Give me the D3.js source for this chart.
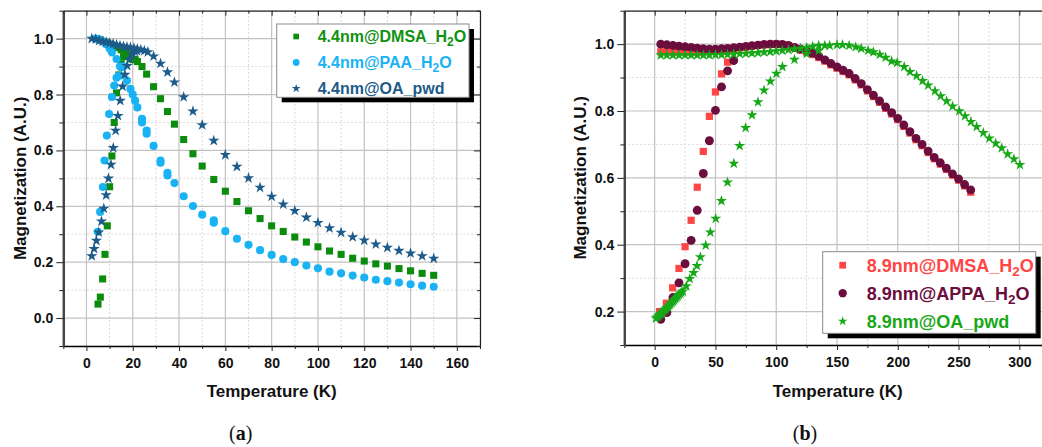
<!DOCTYPE html>
<html>
<head>
<meta charset="utf-8">
<script src="https://cdn.jsdelivr.net/npm/d3@7"></script>
<style>
  body { margin: 0; background: #fff; }
  svg { display: block; font-family: "Liberation Sans", Arial, sans-serif; }
</style>
</head>
<body>
<div id="chart"></div>
<script>
// ---- data: [temperature (K), normalised magnetisation] ----
// panel (a): 4.4 nm particles
const dmsa44 = [
  [5,0.05],[6,0.075],[7,0.14],[8,0.228],[9,0.33],[10,0.47],[11,0.58],[12,0.70],[13,0.806],
  [14,0.87],[15,0.91],[16,0.935],[17,0.945],[18,0.94],[19,0.93],[20,0.925],
  [4.5,1.0],[6,0.995],[7.5,0.99],[9,0.985],[10.5,0.98],[12,0.975],[13.5,0.968],[15,0.96],
  [16.5,0.952],[18,0.944],[19.5,0.935],[21,0.926],
  [22,0.918],[24,0.9],[26,0.873],[29,0.828],[32,0.785],[35,0.739],[38,0.694],[42,0.639],
  [46,0.588],[50,0.544],[55,0.496],[60,0.454],[65,0.417],[70,0.384],[75,0.356],[80,0.330],
  [85,0.31],[90,0.29],[95,0.272],[100,0.255],[105,0.24],[110,0.228],[115,0.214],[120,0.204],
  [125,0.194],[130,0.186],[135,0.177],[140,0.169],[145,0.16],[150,0.153]
];
const paa44 = [
  [4.9,0.309],[5.9,0.38],[7.1,0.469],[7.8,0.564],[8.8,0.653],[9.8,0.73],[11,0.791],[12,0.832],
  [13,0.86],[14,0.867],[15,0.898],
  [4,1.0],[5.5,0.998],[7,0.99],[8.5,0.98],[10,0.965],[11,0.951],[13,0.927],[14.5,0.9],
  [16,0.9],[17.5,0.85],[19,0.82],[20,0.80],[21,0.778],[22,0.754],[24,0.713],[24,0.70],
  [26,0.671],[26,0.66],[29,0.616],[32,0.564],[32,0.556],[35,0.52],[35,0.51],[38,0.483],
  [42,0.436],[46,0.401],[50,0.37],[55,0.341],[55,0.35],[60,0.311],[65,0.284],[70,0.262],
  [75,0.243],[80,0.226],[85,0.211],[90,0.2],[95,0.188],[100,0.178],[105,0.166],[110,0.16],
  [115,0.152],[120,0.145],[125,0.137],[130,0.132],[135,0.127],[140,0.121],[145,0.116],[150,0.112]
];
const oa44 = [
  [2.3,0.222],[3.3,0.248],[4.3,0.277],[5.3,0.307],[6.5,0.346],[7.5,0.392],[8.5,0.44],[9.5,0.5],
  [10.6,0.549],[11.6,0.609],[12.6,0.671],[13.6,0.724],[14.6,0.778],[15.6,0.829],[16.6,0.871],
  [17.6,0.903],[18.6,0.926],[19.8,0.944],[20.8,0.954],[21.8,0.956],
  [2.3,1.0],[4,0.998],[5.5,0.993],[7,0.99],[8.5,0.987],[10,0.984],[11.5,0.981],[13,0.978],
  [14.5,0.975],[16,0.972],[17.5,0.97],[19,0.968],[20.5,0.966],[22,0.963],[23.5,0.96],[25,0.957],
  [26.5,0.952],
  [29,0.937],[32,0.911],[35,0.88],[38,0.844],[42,0.791],[46,0.74],[50,0.691],[55,0.635],
  [60,0.584],[65,0.542],[70,0.501],[75,0.467],[80,0.435],[85,0.407],[90,0.384],[95,0.36],
  [100,0.341],[105,0.322],[110,0.306],[115,0.29],[120,0.278],[125,0.264],[130,0.252],
  [135,0.241],[140,0.232],[145,0.222],[150,0.213]
];

// panel (b): 8.9 nm particles
const dmsa89 = [
  [4,0.2],[9.6,0.225],[14.8,0.271],[20,0.329],[25,0.394],[30,0.473],[35,0.572],[40,0.679],
  [45,0.784],[50,0.857],[55,0.911],[60,0.946],
  [5,0.977],[10,0.977],[15,0.976],[20,0.976],[25,0.976],[30,0.976],[35,0.976],[40,0.977],
  [45,0.978],[50,0.98],[55,0.982],[60,0.984],[65,0.986],[70,0.989],[75,0.991],[80,0.994],
  [85,0.996],[90,0.998],[95,0.999],[100,1.0],[105,0.999],[110,0.995],[115,0.99],[120,0.982],
  [125,0.976],[130,0.969],[135,0.96],[140,0.949],[145,0.938],[150,0.928],[155,0.918],
  [160,0.908],[165,0.893],[170,0.878],[175,0.86],[180,0.843],[185,0.826],[190,0.808],
  [195,0.791],[200,0.774],[205,0.754],[210,0.734],[215,0.714],[220,0.696],[225,0.676],
  [230,0.657],[235,0.641],[240,0.625],[245,0.608],[250,0.593],[255,0.576],[260,0.557]
];
const appa89 = [
  [5,0.177],[10,0.197],[15,0.242],[20,0.286],[25,0.343],[30,0.413],[35,0.503],[40,0.613],
  [45,0.711],[50,0.802],[55,0.872],[60,0.92],[65,0.951],
  [5,1.0],[10,0.998],[15,0.996],[20,0.994],[25,0.992],[30,0.99],[35,0.988],[40,0.986],
  [45,0.985],[50,0.985],[55,0.986],[60,0.987],[65,0.989],[70,0.991],[75,0.993],[80,0.995],
  [85,0.997],[90,0.999],[95,1.0],[100,1.0],[105,0.999],[110,0.996],[115,0.99],[120,0.985],
  [125,0.98],[130,0.973],[135,0.964],[140,0.953],[145,0.942],[150,0.932],[155,0.922],
  [160,0.912],[165,0.897],[170,0.882],[175,0.864],[180,0.847],[185,0.83],[190,0.812],
  [195,0.795],[200,0.778],[205,0.758],[210,0.738],[215,0.718],[220,0.70],[225,0.68],
  [230,0.661],[235,0.645],[240,0.629],[245,0.612],[250,0.597],[255,0.58],[260,0.564]
];
const oa89 = [
  [1,0.18],[2,0.183],[3,0.186],[4,0.19],[5,0.193],[6,0.197],[7,0.2],[8,0.204],[9,0.207],
  [10,0.211],[11,0.214],[12,0.218],[13,0.222],[14,0.226],[15,0.23],[16,0.234],[17,0.238],
  [18,0.242],[19,0.246],[20,0.25],[21,0.254],[22,0.258],[23.3,0.261],[26,0.276],[28.8,0.298],
  [32,0.316],[34.8,0.337],[37.6,0.363],[42,0.398],[45.8,0.437],[50.2,0.478],[54.9,0.531],
  [59.9,0.587],[65.1,0.643],[69.9,0.696],[74.8,0.75],[80.1,0.788],[85,0.827],[90,0.862],
  [95.2,0.889],[100.2,0.912],[105.1,0.932],[115,0.954],[125,0.971],[135,0.981],
  [5,0.967],[10,0.967],[15,0.967],[20,0.967],[25,0.967],[30,0.967],[35,0.967],[40,0.967],
  [45,0.967],[50,0.968],[55,0.968],[60,0.969],[65,0.97],[70,0.971],[75,0.972],[80,0.973],
  [85,0.974],[90,0.976],[95,0.977],[100,0.979],[105,0.981],[110,0.983],[115,0.985],
  [120,0.987],[125,0.99],[130,0.993],[135,0.996],[140,0.996],[144,0.996],[150,0.998],
  [154.5,0.998],[160,0.996],[165.4,0.991],[170,0.987],[175.6,0.981],[180,0.976],[185.2,0.969],
  [190,0.96],[194.9,0.949],[199.5,0.944],[205.3,0.932],[210,0.917],[215.5,0.905],[220.4,0.89],
  [225,0.877],[230.6,0.86],[235.3,0.845],[240.2,0.83],[245.1,0.814],[250.6,0.8],[255.3,0.785],
  [260.2,0.768],[264.9,0.753],[270.4,0.735],[275.3,0.718],[280.6,0.703],[285.5,0.689],
  [290.4,0.671],[295.6,0.656],[300.5,0.639]
];

// tick values
const xTicksA = [0, 20, 40, 60, 80, 100, 120, 140, 160];
const xTicksB = [0, 50, 100, 150, 200, 250, 300];
const yTicksA = [0.0, 0.2, 0.4, 0.6, 0.8, 1.0];
const yTicksB = [0.2, 0.4, 0.6, 0.8, 1.0];

const svg = d3.select("#chart").append("svg")
    .attr("width", 1042)
    .attr("height", 447);

function drawPanel(cfg) {
  const x = d3.scaleLinear().domain(cfg.xDomain).range(cfg.xRange);
  const y = d3.scaleLinear().domain(cfg.yDomain).range(cfg.yRange);
  const [x0, x1] = cfg.xRange;
  const [yb, yt] = cfg.yRange;   // bottom, top in pixels
  const g = svg.append("g");

  // grid (minor dotted, major solid)
  const grid = g.append("g");
  grid.selectAll(".gxm").data(cfg.xMinor).join("line")
      .attr("x1", d => x(d)).attr("x2", d => x(d)).attr("y1", yb).attr("y2", yt)
      .attr("stroke", "#d9d9d9").attr("stroke-dasharray", "2,2");
  grid.selectAll(".gym").data(cfg.yMinor).join("line")
      .attr("y1", d => y(d)).attr("y2", d => y(d)).attr("x1", x0).attr("x2", x1)
      .attr("stroke", "#d9d9d9").attr("stroke-dasharray", "2,2");
  grid.selectAll(".gx").data(cfg.xTicks).join("line")
      .attr("x1", d => x(d)).attr("x2", d => x(d)).attr("y1", yb).attr("y2", yt)
      .attr("stroke", "#c2c2c2").attr("stroke-width", 1.2);
  grid.selectAll(".gy").data(cfg.yTicks).join("line")
      .attr("y1", d => y(d)).attr("y2", d => y(d)).attr("x1", x0).attr("x2", x1)
      .attr("stroke", "#c2c2c2").attr("stroke-width", 1.2);

  // series
  cfg.series.forEach(s => {
    const sym = d3.symbol().type(s.type).size(s.size);
    g.append("g").selectAll("path")
      .data(s.data)
      .join("path")
        .attr("transform", d => `translate(${x(d[0])},${y(d[1])})`)
        .attr("d", sym)
        .attr("fill", s.color);
  });

  // axes: bottom / left outward, top / right inward
  const fmt = d3.format(".1f");
  const bottom = g.append("g").attr("transform", `translate(0,${yb})`)
      .call(d3.axisBottom(x).tickValues(cfg.xTicks).tickSize(5).tickSizeOuter(0).tickPadding(7));
  g.append("g").attr("transform", `translate(0,${yb})`)
      .call(d3.axisBottom(x).tickValues(cfg.xMinor).tickSize(3).tickSizeOuter(0).tickFormat(""))
      .select(".domain").remove();
  const left = g.append("g").attr("transform", `translate(${x0},0)`)
      .call(d3.axisLeft(y).tickValues(cfg.yTicks).tickSize(7).tickSizeOuter(0).tickPadding(3).tickFormat(fmt));
  g.append("g").attr("transform", `translate(${x0},0)`)
      .call(d3.axisLeft(y).tickValues(cfg.yMinor).tickSize(4).tickSizeOuter(0).tickFormat(""))
      .select(".domain").remove();
  g.append("g").attr("transform", `translate(0,${yt})`)
      .call(d3.axisBottom(x).tickValues(cfg.xTicks).tickSize(5).tickSizeOuter(0).tickFormat(""));
  g.append("g").attr("transform", `translate(0,${yt})`)
      .call(d3.axisBottom(x).tickValues(cfg.xMinor).tickSize(3).tickSizeOuter(0).tickFormat(""))
      .select(".domain").remove();
  if (cfg.rightAxis) {
    g.append("g").attr("transform", `translate(${x1},0)`)
        .call(d3.axisLeft(y).tickValues(cfg.yTicks).tickSize(6).tickSizeOuter(0).tickFormat(""));
    g.append("g").attr("transform", `translate(${x1},0)`)
        .call(d3.axisLeft(y).tickValues(cfg.yMinor).tickSize(3).tickSizeOuter(0).tickFormat(""))
        .select(".domain").remove();
  }
  g.selectAll(".tick line").attr("stroke", "#222");
  g.selectAll(".domain").attr("stroke", "#222").attr("stroke-width", 1.2);
  bottom.select(".domain").attr("stroke", "#000").attr("stroke-width", 1.6);
  left.select(".domain").attr("stroke", "#444").attr("stroke-width", 2.4);
  g.selectAll(".tick text")
      .attr("fill", "#111")
      .style("font-size", "14px")
      .style("font-weight", "bold")
      .style("font-family", "'Liberation Sans', Arial, sans-serif");

  // axis titles
  g.append("text")
      .attr("x", (x0 + cfg.titleRight) / 2)
      .attr("y", 397)
      .attr("text-anchor", "middle")
      .style("font-size", "17px")
      .style("font-weight", "bold")
      .attr("fill", "#111")
      .text("Temperature (K)");
  g.append("text")
      .attr("transform", `translate(${cfg.yTitleX},${(yb + yt) / 2}) rotate(-90)`)
      .attr("text-anchor", "middle")
      .attr("dy", "0.35em")
      .style("font-size", "17px")
      .style("font-weight", "bold")
      .attr("fill", "#111")
      .text("Magnetization (A.U.)");

  // legend with drop shadow
  const L = cfg.legend;
  const lg = g.append("g");
  lg.append("rect")
      .attr("x", L.x + 5).attr("y", L.y + 5).attr("width", L.w).attr("height", L.h)
      .attr("fill", "#000");
  lg.append("rect")
      .attr("x", L.x).attr("y", L.y).attr("width", L.w).attr("height", L.h)
      .attr("fill", "#fff").attr("stroke", "#8a8a8a").attr("stroke-width", 1);
  cfg.series.forEach((s, i) => {
    const cy = L.y + L.first + i * L.step;
    lg.append("path")
        .attr("transform", `translate(${L.x + L.mx},${cy})`)
        .attr("d", d3.symbol().type(s.type).size(s.legendSize))
        .attr("fill", s.color);
    const t = lg.append("text")
        .attr("x", L.x + L.tx)
        .attr("y", cy)
        .attr("dy", "0.36em")
        .attr("fill", s.textColor)
        .style("font-size", L.fontSize + "px")
        .style("font-weight", "bold");
    t.append("tspan").text(s.label);
    if (s.sub) {
      t.append("tspan").attr("dy", "0.3em").style("font-size", (L.fontSize * 0.75) + "px").text("2");
      t.append("tspan").attr("dy", "-0.22em").text("O");
    }
  });
}

// Panel (a)
drawPanel({
  xDomain: [-10, 170], xRange: [63.3, 480],
  yDomain: [-0.1, 1.1], yRange: [346, 10.7],
  xTicks: xTicksA, xMinor: [-10, 10, 30, 50, 70, 90, 110, 130, 150, 170],
  yTicks: yTicksA, yMinor: [-0.1, 0.1, 0.3, 0.5, 0.7, 0.9, 1.1],
  rightAxis: true, titleRight: 480, yTitleX: 20,
  legend: {x: 276.7, y: 24, w: 192.3, h: 73.3, first: 12.5, step: 26, mx: 19.5, tx: 41, fontSize: 16},
  series: [
    {data: dmsa44, type: d3.symbolSquare, size: 50, legendSize: 32, color: "#0c8c0c", textColor: "#0f920f", label: "4.4nm@DMSA_H", sub: true},
    {data: paa44, type: d3.symbolCircle, size: 52, legendSize: 36, color: "#19b3f5", textColor: "#19b3f5", label: "4.4nm@PAA_H", sub: true},
    {data: oa44, type: d3.symbolStar, size: 40, legendSize: 24, color: "#1d5b8a", textColor: "#1d5b8a", label: "4.4nm@OA_pwd", sub: false}
  ]
});

// Panel (b)
drawPanel({
  xDomain: [-25, 325], xRange: [624.3, 1049.7],
  yDomain: [0.1, 1.1], yRange: [345, 10.7],
  xTicks: xTicksB, xMinor: [-25, 25, 75, 125, 175, 225, 275, 325],
  yTicks: yTicksB, yMinor: [0.1, 0.3, 0.5, 0.7, 0.9, 1.1],
  rightAxis: false, titleRight: 1051, yTitleX: 580,
  legend: {x: 822.7, y: 251.7, w: 213, h: 81.6, first: 13.5, step: 28, mx: 20, tx: 44, fontSize: 18},
  series: [
    {data: dmsa89, type: d3.symbolSquare, size: 52, legendSize: 46, color: "#ff4545", textColor: "#ff4545", label: "8.9nm@DMSA_H", sub: true},
    {data: appa89, type: d3.symbolCircle, size: 62, legendSize: 54, color: "#6b0d3d", textColor: "#6b0d3d", label: "8.9nm@APPA_H", sub: true},
    {data: oa89, type: d3.symbolStar, size: 38, legendSize: 28, color: "#17a817", textColor: "#17a817", label: "8.9nm@OA_pwd", sub: false}
  ]
});

// sub-figure captions
[["a", 240.7], ["b", 805]].forEach(([c, cx]) => {
  const t = svg.append("text")
      .attr("x", cx).attr("y", 440)
      .attr("text-anchor", "middle")
      .style("font-family", "'Liberation Serif', 'DejaVu Serif', serif")
      .style("font-size", "20px")
      .attr("fill", "#111");
  t.append("tspan").text("(");
  t.append("tspan").style("font-weight", "bold").text(c);
  t.append("tspan").text(")");
});
</script>
</body>
</html>
